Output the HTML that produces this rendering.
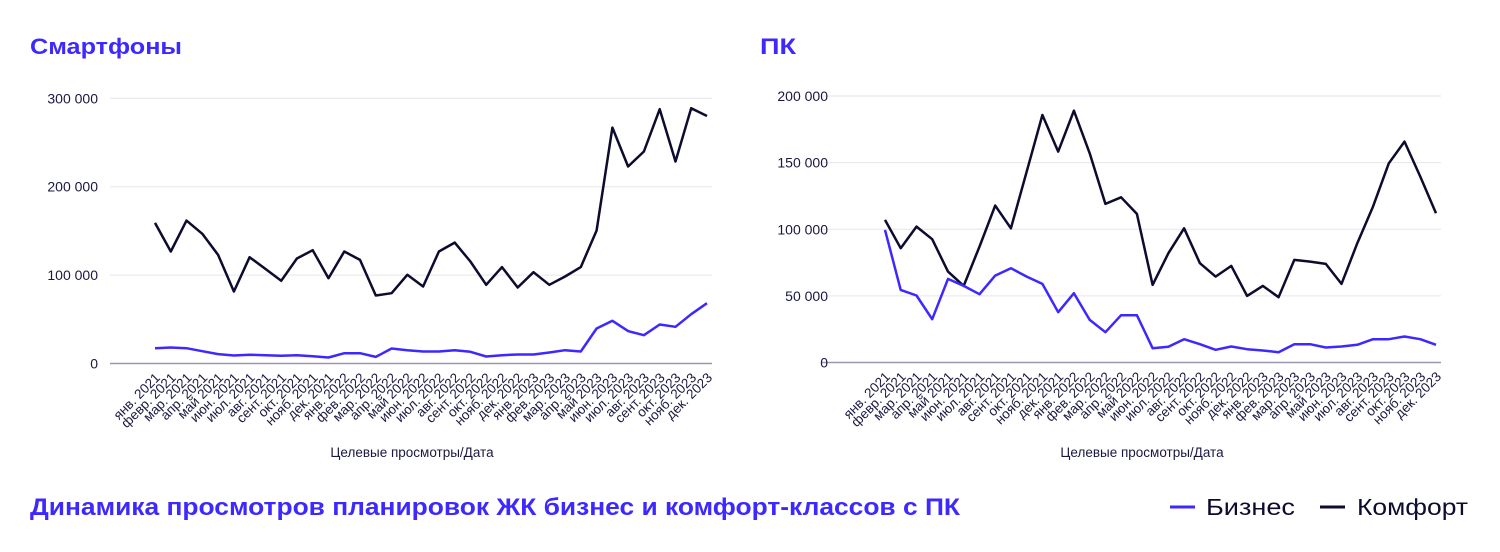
<!DOCTYPE html>
<html><head><meta charset="utf-8"><style>
html,body{margin:0;padding:0;background:#fff;}
svg{display:block;font-family:"Liberation Sans","DejaVu Sans",sans-serif;}
</style></head><body>
<svg id="c" width="1500" height="552" viewBox="0 0 1500 552">
<text x="30" y="54" font-size="22" font-weight="bold" fill="#3d28ff" textLength="152" lengthAdjust="spacingAndGlyphs">Смартфоны</text>
<text x="760" y="54" font-size="22" font-weight="bold" fill="#3d28ff" textLength="36" lengthAdjust="spacingAndGlyphs">ПК</text>
<text x="30" y="515" font-size="24" font-weight="bold" fill="#3d28ff" textLength="930" lengthAdjust="spacingAndGlyphs">Динамика просмотров планировок ЖК бизнес и комфорт-классов с ПК</text>
<g>
<line x1="1170" y1="507" x2="1195" y2="507" stroke="#3d28ff" stroke-width="3"/>
<text x="1206" y="515" font-size="23" fill="#0d0b2e" textLength="89" lengthAdjust="spacingAndGlyphs">Бизнес</text>
<line x1="1320" y1="507" x2="1345" y2="507" stroke="#0d0b2e" stroke-width="3"/>
<text x="1357" y="515" font-size="23" fill="#0d0b2e" textLength="111" lengthAdjust="spacingAndGlyphs">Комфорт</text>
</g>
</svg>
<script>
const months = ["янв.","февр.","мар.","апр.","май","июн.","июл.","авг.","сент.","окт.","нояб.","дек.","янв.","фев.","мар.","апр.","май","июн.","июл.","авг.","сент.","окт.","нояб.","дек.","янв.","фев.","мар.","апр.","май","июн.","июл.","авг.","сент.","окт.","нояб.","дек."];
const years = [2021,2021,2021,2021,2021,2021,2021,2021,2021,2021,2021,2021,2022,2022,2022,2022,2022,2022,2022,2022,2022,2022,2022,2022,2023,2023,2023,2023,2023,2023,2023,2023,2023,2023,2023,2023];
const phoneComfort = [159000,126700,161700,146700,122900,81400,120300,107000,93500,118800,128200,96500,126700,117200,76900,79500,100300,87100,126700,136800,115400,89000,109000,86000,103300,89000,98400,109000,150400,266900,222800,239800,287700,228500,288800,280000];
const phoneBusiness = [17300,18100,17300,13900,10600,9000,9800,9400,8700,9400,8300,6800,11700,11700,7500,17000,15100,13600,13600,15100,13200,7900,9400,10200,10200,12400,15100,13600,39600,48300,36600,32000,44100,41500,55800,68200];
const phoneTicks = [0,100000,200000,300000];
const pcComfort = [107000,85750,102000,92500,68250,57500,87000,117750,100750,143250,185750,158250,189000,157000,119000,124000,111500,58250,82000,100750,74500,64500,72500,50000,57500,49000,77000,75750,74000,59000,89500,117000,149500,165750,139500,112000];
const pcBusiness = [99500,54500,50250,32500,62750,57500,51250,65250,70750,64500,59000,37750,52000,32000,22750,35500,35500,10750,11750,17500,13750,9500,12000,10000,9000,7750,13750,13750,11250,12000,13250,17500,17500,19500,17500,13250];
const pcTicks = [0,50000,100000,150000,200000];

const NS="http://www.w3.org/2000/svg";
const svg=document.getElementById('c');
function mk(tag,attrs,parent){const e=document.createElementNS(NS,tag);for(const k in attrs)e.setAttribute(k,attrs[k]);(parent||svg).appendChild(e);return e;}
function fmt(v){return v===0?"0":String(v).replace(/\B(?=(\d{3})+(?!\d))/g," ");}

function chart(cfg){
  const g=mk('g',{});
  
  
  const y=v=>cfg.y0-(v/cfg.max)*(cfg.y0-cfg.yTop);
  const x=i=>cfg.xFirst+i*(cfg.xLast-cfg.xFirst)/(months.length-1);
  cfg.ticks.forEach(t=>{
    const l=mk('line',{x1:cfg.gx1,x2:cfg.gx2,y1:y(t),y2:y(t),stroke:t===0?'#9a98b0':'#e6e6ec','stroke-width':t===0?1.5:1},g);
    
    
    const tx=mk('text',{x:cfg.labelX,y:y(t)+5,'font-size':14,fill:'#1a1840','text-anchor':'end'},g);
    tx.textContent=fmt(t);
    
    
  });
  months.forEach((m,i)=>{
    const px=x(i)+6, py=cfg.y0+15;
    const tx=mk('text',{x:px,y:py,'font-size':13.5,fill:'#1a1840','text-anchor':'end',transform:`rotate(-45 ${px} ${py})`},g);
    tx.textContent=m+" "+years[i];
    
    
  });
  const at=mk('text',{x:cfg.titleX,y:457,'font-size':13.5,fill:'#1a1840','text-anchor':'middle'},g);
  at.textContent="Целевые просмотры/Дата";
  
  
  [[cfg.comfort,'#0d0b2e','comfort-line'],[cfg.business,'#3d28ff','business-line']].forEach(([d,c,n])=>{
    const p=mk('polyline',{points:d.map((v,i)=>x(i).toFixed(1)+","+y(v).toFixed(1)).join(" "),fill:'none',stroke:c,'stroke-width':2.5,'stroke-linejoin':'round'},g);
    
    
  });
}
chart({name:'smartphones-chart',comfort:phoneComfort,business:phoneBusiness,ticks:phoneTicks,max:300000,y0:363.5,yTop:98.3,xFirst:155,xLast:707,gx1:110,gx2:712,labelX:98,titleX:412});
chart({name:'pc-chart',comfort:pcComfort,business:pcBusiness,ticks:pcTicks,max:200000,y0:362.5,yTop:96,xFirst:885,xLast:1436,gx1:822,gx2:1441,labelX:828,titleX:1142});
</script>
</body></html>
